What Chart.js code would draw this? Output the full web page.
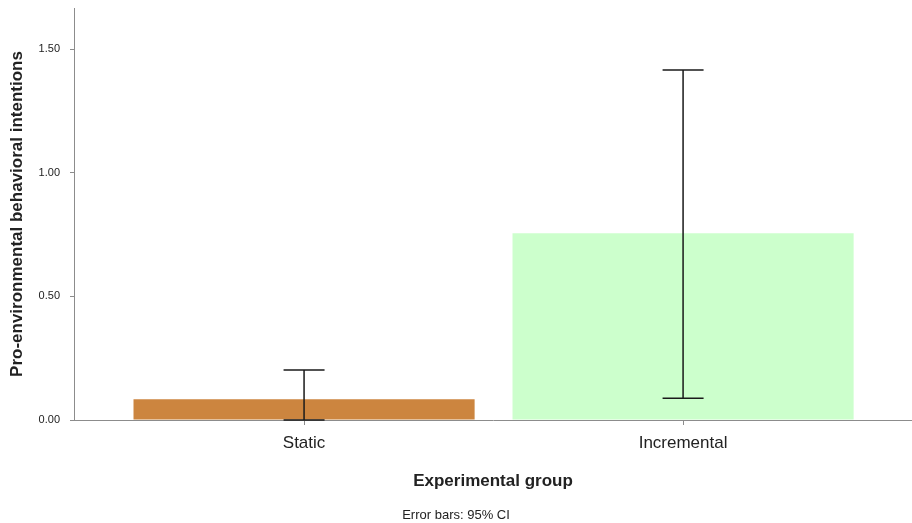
<!DOCTYPE html>
<html>
<head>
<meta charset="utf-8">
<script src="https://cdn.jsdelivr.net/npm/chart.js@4.4.1/dist/chart.umd.min.js"></script>
<style>
  html, body { margin: 0; padding: 0; background: #ffffff; }
  #wrap { width: 912px; height: 523px; }
</style>
</head>
<body>
<div id="wrap"><canvas id="c" width="912" height="523"></canvas></div>
<script>
// Group labels and their positions on the x axis
const categories = ['Static', 'Incremental'];
const groupPositions = [1, 2];

// Group means and 95% confidence limits
const means = [0.084, 0.755];
const ciLower = [0.0, 0.088];
const ciUpper = [0.202, 1.415];

// Y axis tick values
const yTickValues = [0, 0.5, 1.0, 1.5];

const barColors = ['#cc853f', '#ccffcc'];
const axisColor = '#8c8c8c';
const textColor = '#222222';
const fontFamily = '"Liberation Sans", Arial, sans-serif';

// Draws a vertical whisker with caps for every bar
const errorBars = {
  id: 'errorBars',
  afterDatasetsDraw(chart) {
    const { ctx, scales: { x, y } } = chart;
    const capHalf = 20.5;
    ctx.save();
    ctx.strokeStyle = '#1a1a1a';
    ctx.lineWidth = 1.5;
    groupPositions.forEach((pos, i) => {
      const px = x.getPixelForValue(pos);
      const yLo = y.getPixelForValue(ciLower[i]);
      const yHi = y.getPixelForValue(ciUpper[i]);
      ctx.beginPath();
      ctx.moveTo(px, yHi);
      ctx.lineTo(px, yLo);
      ctx.moveTo(px - capHalf, yHi);
      ctx.lineTo(px + capHalf, yHi);
      ctx.moveTo(px - capHalf, yLo);
      ctx.lineTo(px + capHalf, yLo);
      ctx.stroke();
    });
    ctx.restore();
  }
};

new Chart(document.getElementById('c'), {
  type: 'bar',
  data: {
    datasets: [{
      data: groupPositions.map((pos, i) => ({ x: pos, y: means[i] })),
      backgroundColor: barColors,
      borderWidth: 0,
      barPercentage: 0.9,
      categoryPercentage: 1.0
    }]
  },
  options: {
    responsive: false,
    animation: false,
    layout: { padding: { top: 8, right: 0, left: 0, bottom: 0 } },
    plugins: {
      legend: { display: false },
      tooltip: { enabled: false },
      title: {
        display: true,
        position: 'bottom',
        text: 'Error bars: 95% CI',
        color: textColor,
        font: { family: fontFamily, size: 13, weight: 'normal', lineHeight: 1.2 },
        padding: { top: 0, bottom: 0 }
      }
    },
    scales: {
      x: {
        type: 'linear',
        offset: false,
        min: 0.393,
        max: 2.604,
        afterBuildTicks(scale) {
          scale.ticks = groupPositions.map(v => ({ value: v }));
        },
        afterFit(scale) {
          scale.height = 87.4;
          scale.paddingLeft = 0;
          scale.paddingRight = 0;
        },
        ticks: {
          color: textColor,
          font: { family: fontFamily, size: 17 },
          padding: 8,
          maxRotation: 0,
          callback: (v) => categories[groupPositions.indexOf(v)] ?? ''
        },
        grid: {
          offset: false,
          drawOnChartArea: false,
          drawTicks: true,
          tickLength: 5,
          color: axisColor
        },
        border: { display: true, color: axisColor, width: 1 },
        title: {
          display: true,
          text: 'Experimental group',
          color: textColor,
          font: { family: fontFamily, size: 17, weight: 'bold' },
          padding: { top: 0, bottom: 16 }
        }
      },
      y: {
        min: 0,
        max: 1.666,
        afterBuildTicks(scale) {
          scale.ticks = yTickValues.map(v => ({ value: v }));
        },
        afterFit(scale) {
          scale.width = 74;
          scale.paddingTop = 0;
          scale.paddingBottom = 0;
        },
        ticks: {
          color: textColor,
          font: { family: fontFamily, size: 11 },
          padding: 10,
          callback: (v) => Number(v).toFixed(2)
        },
        grid: {
          drawOnChartArea: false,
          drawTicks: true,
          tickLength: 4,
          color: axisColor
        },
        border: { display: true, color: axisColor, width: 1 },
        title: {
          display: true,
          text: 'Pro-environmental behavioral intentions',
          color: textColor,
          font: { family: fontFamily, size: 17, weight: 'bold' },
          padding: { top: 7, bottom: 0 }
        }
      }
    }
  },
  plugins: [errorBars]
});
</script>
</body>
</html>
